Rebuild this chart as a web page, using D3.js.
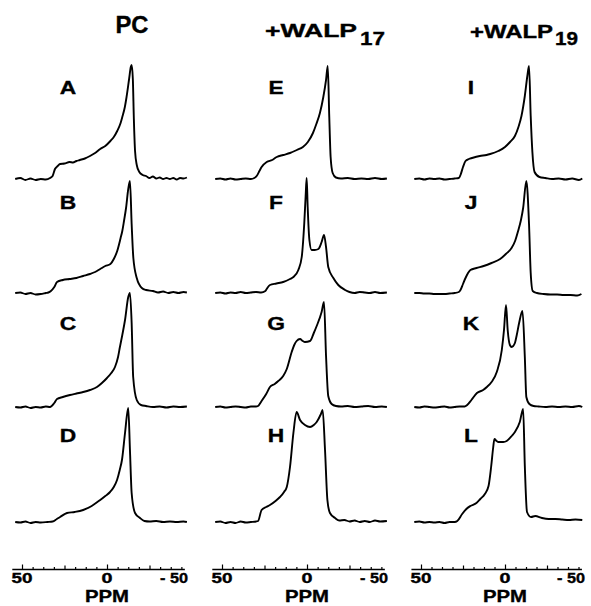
<!DOCTYPE html>
<html>
<head>
<meta charset="utf-8">
<script src="https://cdn.jsdelivr.net/npm/d3@7"></script>
<style>
	html, body { margin: 0; padding: 0; background: #fff; }
	svg { display: block; }
	text { font-family: "Liberation Sans", Arial, Helvetica, sans-serif; font-weight: bold; fill: #000; stroke: #000; stroke-width: 0.35px; }
</style>
</head>
<body>
<svg id="chart" width="591" height="606"></svg>
<script>
"use strict";

// column headers (main text + subscript)
var aHeaders = ["PC", "+WALP", "+WALP"];
var aHeaderSubs = ["", "17", "19"];
// panel letters, per column, top to bottom
var aLetters = [["A", "B", "C", "D"], ["E", "F", "G", "H"], ["I", "J", "K", "L"]];
var aTickLabels = [50, 0, -50];
var sAxisTitle = "PPM";

// spectra: [ppm, relative intensity]
var specA = [[54,0],[51,1],[48,-1],[45,0.5],[42,-1],[39,0],[36,-0.5],[33.5,1],[32,3],[30.6,10],[29,13],[27.6,15],[25,15.5],[22,17],[20,16.5],[18,18],[16,19],[13,20.5],[10,23],[7,26],[4,30],[1,33],[-2,38],[-4,42],[-6,48],[-8,56],[-9,62],[-10.5,72],[-11.5,82],[-13,100],[-14,112],[-14.5,114],[-15.2,100],[-15.8,60],[-16.5,28],[-17.5,14],[-19,7],[-21,4],[-23,3],[-25,1],[-27,2.5],[-29,0.5],[-31,1.5],[-33,0],[-35,1],[-37,0],[-39,1],[-41,-0.5],[-43,1],[-45,0.5],[-47,1.5]];
var specB = [[54,0],[51,0.5],[48,-1],[45,0],[42,-1.5],[39,-1],[36,0],[34.5,0.5],[33,2],[31,6],[29.4,11],[26,13],[22,14],[18,15],[14,17],[10,19],[7,21],[4,24],[1,27],[-2,29],[-4,34],[-6,42],[-8,55],[-9,62],[-10,72],[-11.2,85],[-12.5,104],[-13.5,112],[-14.5,69],[-15.5,35],[-17.5,15],[-20.5,5],[-23,3],[-27,2],[-30,0.5],[-33,1.5],[-36,0],[-39,1],[-42,0],[-45,1],[-47,0.5]];
var specC = [[54,0],[51,-0.5],[48,0.5],[45,-1],[42,0],[39,-0.5],[36,0.5],[33.5,0],[31,4],[29.4,8],[26,10],[21.8,12],[18,13.5],[14,15],[10,17],[5.9,20],[3,24],[0,29],[-2.5,34],[-4.7,40],[-6.5,50],[-7.6,60],[-9,72],[-10.6,87],[-12.5,110],[-13.5,114],[-14.5,84],[-15.4,30],[-17.5,7],[-20,2],[-23,1],[-27,0],[-31,0.5],[-35,-0.5],[-39,0.5],[-43,0],[-47,0.5]];
var specD = [[54,0],[51,-0.5],[48,0.5],[45,-1],[42,0],[39,-0.5],[35,0],[32,0.5],[29.5,3],[27.6,5],[23.5,9],[19,10],[14,12],[9,16],[4,22],[1,26],[-1.8,30],[-4,35],[-5.9,42],[-7.5,52],[-8.8,62],[-10.6,89],[-12.5,114],[-13.5,72],[-14.5,29],[-16.5,9],[-19.4,4],[-22,1],[-25,0.5],[-29,1],[-33,0],[-37,0.5],[-41,0],[-45,0.5],[-47,0]];
var specE = [[54,0],[51,0.5],[48,-0.5],[45,0.5],[42,-0.5],[39,0],[36,0.5],[33,0],[31,1],[29.6,3],[28,8],[26.7,12],[23.7,17],[20.5,19],[17.8,22],[14,24],[10,26],[6,29],[2.4,32],[-0.5,37],[-3.5,46],[-5.5,55],[-7.6,66],[-9.6,82],[-11.2,99],[-12.2,113],[-13.1,62],[-13.9,22],[-15.1,6],[-17,1.5],[-20,0.5],[-24,1],[-28,0],[-32,0.5],[-36,0],[-40,1],[-44,0],[-47,0.5]];
var specF = [[54,0],[51,0.5],[48,-0.5],[45,0.5],[42,0],[39,1],[36,0],[33,0.5],[30,1],[27,0.5],[24.5,2],[23.7,4],[21.8,8],[18,9.5],[14,11],[10,14],[8,16],[5.1,23],[3.1,36],[1.6,70],[0.8,97],[0.2,115],[-0.4,86],[-1.4,53],[-2.7,43],[-4.5,43],[-6.7,44],[-8.6,51],[-10,58],[-11.2,46],[-12.5,26],[-15.5,15],[-18.4,8],[-22.4,3],[-25,1],[-28,0],[-31,1],[-34,0.5],[-37,0],[-40,1],[-43,0],[-47,0.5]];
var specG = [[54,0],[51,0.5],[48,-0.5],[45,0],[42,0.5],[39,0],[36,-0.5],[33,0.5],[30,0.5],[28.8,1],[26.7,6],[24,13],[21.8,20],[19,23],[16.9,26],[14,31],[11.9,38],[9,55],[7.5,62],[6.1,66],[4.1,68],[2.5,66],[1.2,65],[-1.8,66],[-4,74],[-5.7,81],[-8.6,95],[-10,105],[-11.2,51],[-12.5,11],[-14.5,3],[-17,1],[-20,0.5],[-24,1],[-28,0],[-32,0.5],[-36,1],[-40,0],[-44,0.5],[-47,0]];
var specH = [[54,0],[51,0.5],[48,-1],[45,0],[42,-1],[39,0.5],[36,-0.5],[33,0],[30,0.5],[28.8,1],[26.7,12],[24,15],[21.8,17],[18.5,21],[15.9,25],[13.5,30],[11.9,35],[10,55],[8,89],[6.1,110],[4.1,102],[1.2,97],[-1.8,95],[-4,97],[-5.7,100],[-8.2,108],[-9.2,112],[-10.6,72],[-12,22],[-13.5,9],[-16.5,4],[-19,1.5],[-22,2],[-25,0.5],[-28,1.5],[-31,0],[-34,1],[-37,0],[-40,1.5],[-43,0.5],[-47,1]];
var specI = [[54,0],[51,0.5],[48,-0.5],[45,0.5],[42,0],[39,0.5],[36,-0.5],[33,0],[30,0.5],[27.5,1],[26.5,4],[25,12],[23.5,18],[21.5,20],[19.6,21],[15,23],[11,24],[8.8,25],[4,28],[0,32],[-3,37],[-5.9,43],[-8,52],[-9.8,63],[-11.8,83],[-13.3,103],[-14.3,113],[-15.3,63],[-16.3,27],[-17.6,7],[-20.5,2],[-24,1],[-28,0],[-32,0.5],[-36,-0.5],[-40,0.5],[-44,-1],[-46,0.5]];
var specJ = [[54,0],[51,0],[48,-0.5],[45,-0.5],[42,-1],[39,-1],[36,-1],[33,-0.5],[30,0],[27.5,1],[26.5,3],[25,9],[23.5,15],[22,20],[20.6,23],[17,25],[12.7,27],[8,30],[2.9,34],[-0.5,39],[-3.9,45],[-6,52],[-7.8,62],[-9.5,73],[-10.8,85],[-12.7,112],[-14.3,69],[-15.3,20],[-16.5,2],[-19,0],[-23,-1],[-27,-1.5],[-31,-1.5],[-35,-2],[-39,-2],[-43,-2.5],[-45.5,-1]];
var specK = [[54,0],[51,-0.5],[48,0.5],[45,0],[42,-0.5],[39,0],[36,0.5],[33,-0.5],[30,0],[27,0.5],[24,0.5],[22.5,2],[20,7],[16.7,14],[13,17],[10.8,20],[8,25],[4.9,35],[1.9,57],[0.6,77],[-0.6,102],[-1.6,77],[-2.9,62],[-4,60],[-5.9,64],[-7,72],[-8.4,84],[-10.4,96],[-11.8,50],[-12.7,10],[-14.5,3],[-17,1],[-20,0.5],[-24,0],[-28,0.5],[-32,0],[-36,0.5],[-40,0],[-44,1],[-46,0]];
var specL = [[54,0],[51,0.5],[48,-0.5],[45,0],[42,-0.5],[39,0],[36,-1],[33,0],[30,0],[28.4,1],[25.5,8],[23,13],[20.6,16],[17,19],[14.7,23],[12,28],[9.8,36],[8.2,56],[7,75],[6.3,83],[5,81],[3.9,80],[1,80],[-1,81],[-4,86],[-5.9,90],[-8.8,100],[-10.8,113],[-11.8,56],[-13.1,10],[-15.5,5],[-18,6],[-22,4],[-26,3],[-30,3],[-34,2.5],[-38,2],[-42,2.5],[-46,2]];

var aSpectra = [
	[specA, specB, specC, specD],
	[specE, specF, specG, specH],
	[specI, specJ, specK, specL]
];

// layout
var aColX50 = [22, 222, 421],   // pixel of +50 ppm
	aColX0 = [107, 307, 505],    // pixel of 0 ppm
	aRowBase = [179, 293, 407, 522],
	iRowHeight = 115,
	iAxisY = 569,
	aLetterX = [68, 276, 471],
	aLetterY = [94, 209, 330, 442];

var oSVG = d3.select("#chart");
oSVG.append("rect").attr("width", 591).attr("height", 606).attr("fill", "#fff");

// bold text, optionally stretched to a given width (the old lettering is wide)
function addText(oParent, sText, x, y, iSize, iLength, sAnchor) {
	var oText = oParent.append("text")
		.attr("x", x)
		.attr("y", y)
		.attr("font-size", iSize)
		.attr("text-anchor", sAnchor || "middle")
		.text(sText);
	if (iLength) {
		oText.attr("textLength", iLength).attr("lengthAdjust", "spacingAndGlyphs");
	}
	return oText;
}

// headers
addText(oSVG, aHeaders[0], 132, 33, 23, 33);
addText(oSVG, aHeaders[1], 265, 37, 18, 92, "start");
addText(oSVG, aHeaderSubs[1], 360, 45, 19, 25, "start");
addText(oSVG, aHeaders[2], 470, 38, 18, 83, "start");
addText(oSVG, aHeaderSubs[2], 555, 45, 18, 23, "start");

var aMinorTicks = d3.range(0, 16).map(function(i) { return 50 - i * 6.25; });

aSpectra.forEach(function(aColumn, iCol) {
	var x = d3.scaleLinear().domain([50, 0]).range([aColX50[iCol], aColX0[iCol]]);
	var oCol = oSVG.append("g");

	aColumn.forEach(function(aSpec, iRow) {
		var y = d3.scaleLinear()
			.domain([0, iRowHeight])
			.range([aRowBase[iRow], aRowBase[iRow] - iRowHeight]);

		var line = d3.line()
			.x(function(d) { return x(d[0]); })
			.y(function(d) { return y(d[1]); })
			.curve(d3.curveMonotoneX);

		oCol.append("path")
			.datum(aSpec)
			.attr("d", line)
			.attr("fill", "none")
			.attr("stroke", "#000")
			.attr("stroke-width", 1.9)
			.attr("stroke-linejoin", "round");

		// panel letter, widened a little
		oCol.append("g")
			.attr("transform", "translate(" + aLetterX[iCol] + "," + aLetterY[iRow] + ") scale(1.2,1)")
			.call(function(g) { addText(g, aLetters[iCol][iRow], 0, 0, 19, null); });
	});

	// ppm axis, ticks pointing up
	var xAxis = x.copy().domain([56, -45.5]).range([x(56), x(-45.5)]);
	var oAxis = oCol.append("g")
		.attr("transform", "translate(0," + iAxisY + ")")
		.call(d3.axisTop(xAxis).tickValues(aMinorTicks).tickSize(2).tickSizeOuter(0).tickFormat(""));
	oAxis.select(".domain").attr("stroke", "#000").attr("stroke-width", 1.5);
	oAxis.selectAll(".tick line")
		.attr("stroke", "#000")
		.attr("stroke-width", 1.2)
		.attr("y2", function(d) { return d % 50 === 0 ? -4.5 : (d % 25 === 0 ? -3.5 : -2); });

	aTickLabels.forEach(function(v) {
		var sLabel = v < 0 ? "- " + Math.abs(v) : String(v);
		var iLen = v === 0 ? 11 : (v < 0 ? 28 : 21);
		var xPos = v < 0 ? x(v) - 18 : x(v);
		addText(oCol, sLabel, xPos, 583, 14, iLen);
	});

	addText(oCol, sAxisTitle, x(0), 602, 17, 44);
});
</script>
</body>
</html>
